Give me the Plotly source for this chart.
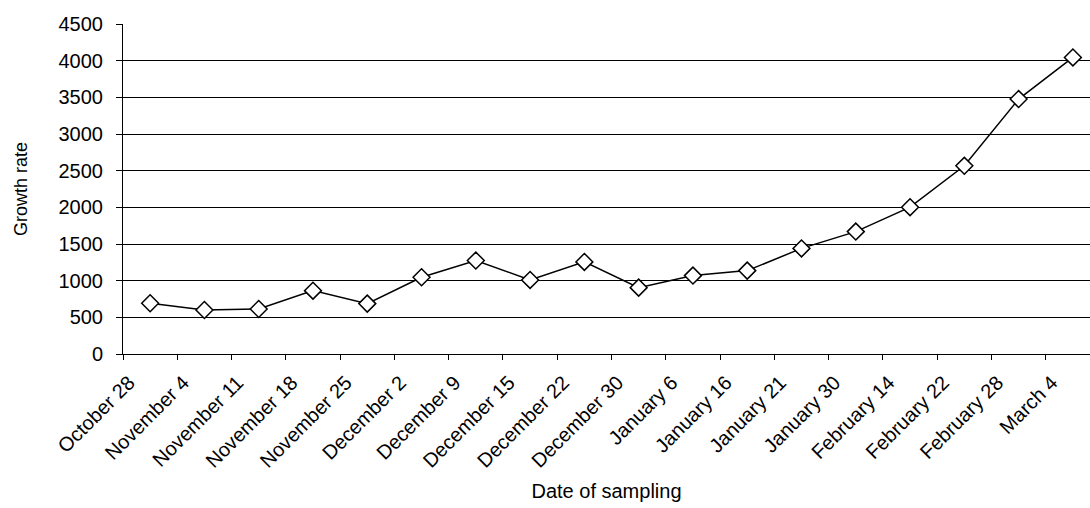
import plotly.graph_objects as go

dates = ["October 28", "November 4", "November 11", "November 18", "November 25",
         "December 2", "December 9", "December 15", "December 22", "December 30",
         "January 6", "January 16", "January 21", "January 30", "February 14",
         "February 22", "February 28", "March 4"]
growth = [692, 600, 614, 864, 687, 1047, 1274, 1010, 1256, 905,
          1069, 1137, 1440, 1669, 2002, 2566, 3476, 4044]

positions = [i + 0.5 for i in range(len(dates))]
tick_pos = list(range(len(dates)))

font_family = "Liberation Sans, Arial, sans-serif"

fig = go.Figure()
fig.add_trace(go.Scatter(
    x=positions, y=growth, mode="lines+markers",
    line=dict(color="black", width=1.5),
    marker=dict(symbol="diamond", size=13, color="white",
                line=dict(color="black", width=1.5)),
    showlegend=False,
))

fig.update_layout(
    width=1090, height=508,
    margin=dict(l=123, r=0, t=24, b=154),
    plot_bgcolor="white", paper_bgcolor="white",
    font=dict(family=font_family, size=20, color="black"),
    xaxis=dict(
        range=[0, 17.815],
        tickmode="array", tickvals=tick_pos, ticktext=dates,
        tickangle=-45, ticks="outside", ticklen=5, tickcolor="black",
        tickfont=dict(size=20), ticklabelstandoff=3, ticklabelshift=6,
        showgrid=False, showline=True, linecolor="black", linewidth=1,
        zeroline=False,
        title=dict(text="Date of sampling", font=dict(size=20), standoff=13),
    ),
    yaxis=dict(
        range=[0, 4500], dtick=500, tick0=0,
        ticks="outside", ticklen=6, tickcolor="black",
        tickfont=dict(size=20), ticklabelstandoff=9,
        showgrid=True, gridcolor="black", gridwidth=1,
        showline=True, linecolor="black", linewidth=1,
        zeroline=False,
        title=dict(text="Growth rate", font=dict(size=18), standoff=26),
    ),
)

fig.write_html("out.html",
               config={"displayModeBar": False},
               post_script="document.body.style.margin='0';document.body.style.overflow='hidden';window.dispatchEvent(new Event('resize'));")
